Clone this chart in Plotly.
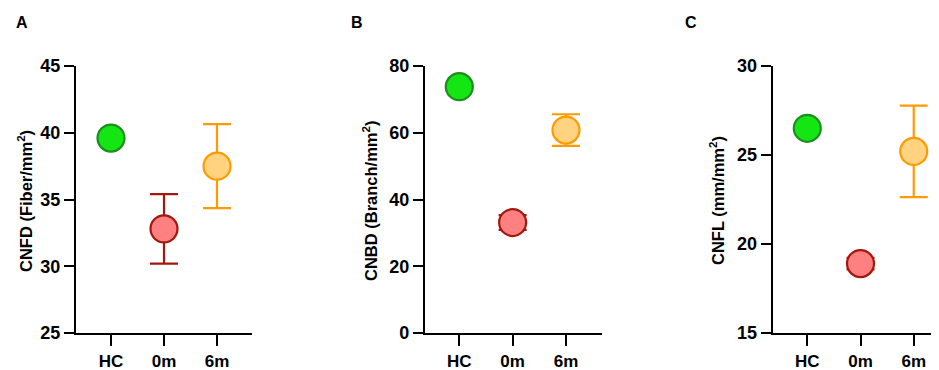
import plotly.graph_objects as go

# The page body adds an 8px offset; lay the figure out in reference pixels minus that offset.
OFF = 8
W, H = 939 - OFF, 370 - OFF

groups = ["HC", "0m", "6m"]

cnfd_mean = [39.6, 32.8, 37.5]
cnfd_err = [0.0, 2.6, 3.15]

cnbd_mean = [73.8, 33.1, 60.8]
cnbd_err = [0.0, 2.2, 4.75]

cnfl_mean = [26.5, 18.9, 25.2]
cnfl_err = [0.0, 0.32, 2.57]

fill_colors = ["#14E614", "#FF8080", "#FFD37F"]
line_colors = ["#1E8C1E", "#A3170F", "#FF9A00"]

panels = [
    dict(letter="A", title="CNFD (Fiber/mm<sup>2</sup>)", mean=cnfd_mean, err=cnfd_err,
         yrange=[25, 45], dtick=5, xpx=(76, 252), xrange=[-0.66, 2.66], title_x=25, letter_x=22),
    dict(letter="B", title="CNBD (Branch/mm<sup>2</sup>)", mean=cnbd_mean, err=cnbd_err,
         yrange=[0, 80], dtick=20, xpx=(425, 601.7), xrange=[-0.643, 2.67], title_x=370, letter_x=357),
    dict(letter="C", title="CNFL (mm/mm<sup>2</sup>)", mean=cnfl_mean, err=cnfl_err,
         yrange=[15, 30], dtick=5, xpx=(772.7, 939), xrange=[-0.65, 2.475], title_x=717, letter_x=691),
]


def px_x(p):
    return (p - OFF) / W


def px_y(p):
    return 1 - (p - OFF) / H


y_top, y_bot = 66, 333
ydom = [px_y(y_bot), px_y(y_top)]

font_family = "Liberation Sans, Arial, sans-serif"

fig = go.Figure()
annotations = []
layout = {}

for i, p in enumerate(panels):
    sfx = "" if i == 0 else str(i + 1)
    xa, ya = "x" + sfx, "y" + sfx
    for g in range(3):
        fig.add_trace(go.Scatter(
            x=[g], y=[p["mean"][g]],
            mode="markers",
            marker=dict(size=27, color=fill_colors[g],
                        line=dict(color=line_colors[g], width=2.2)),
            error_y=dict(type="data", array=[p["err"][g]], visible=p["err"][g] > 0,
                         color=line_colors[g], thickness=2.2, width=14),
            xaxis=xa, yaxis=ya, showlegend=False, cliponaxis=False,
        ))
    layout["xaxis" + sfx] = dict(
        domain=[px_x(p["xpx"][0]), min(1.0, px_x(p["xpx"][1]))], range=p["xrange"], anchor=ya,
        tickvals=[0, 1, 2], ticktext=groups, showgrid=False, zeroline=False,
        showline=True, linecolor="black", linewidth=2.3, automargin=False,
        ticks="outside", ticklen=11, tickwidth=2.3, tickcolor="black",
        tickfont=dict(family=font_family, size=17, color="black", weight="bold"),
        fixedrange=True,
    )
    layout["yaxis" + sfx] = dict(
        domain=ydom, range=p["yrange"], anchor=xa, dtick=p["dtick"],
        tick0=p["yrange"][0], showgrid=False, zeroline=False,
        showline=True, linecolor="black", linewidth=2.3, automargin=False,
        ticks="outside", ticklen=10, tickwidth=2.3, tickcolor="black",
        tickfont=dict(family=font_family, size=18, color="black", weight="bold"),
        fixedrange=True,
    )
    annotations.append(dict(
        text=p["title"], textangle=-90, xref="paper", yref="paper",
        x=px_x(p["title_x"]), y=px_y(201), xanchor="center", yanchor="middle",
        showarrow=False,
        font=dict(family=font_family, size=16.5, color="black", weight="bold"),
    ))
    annotations.append(dict(
        text=p["letter"], xref="paper", yref="paper",
        x=px_x(p["letter_x"]), y=px_y(22), xanchor="center", yanchor="middle",
        showarrow=False,
        font=dict(family=font_family, size=16, color="black", weight="bold"),
    ))

fig.update_layout(
    template="none",
    width=W, height=H,
    margin=dict(l=0, r=0, t=0, b=0, autoexpand=False),
    paper_bgcolor="white", plot_bgcolor="white",
    annotations=annotations,
    **layout,
)

fig.write_html("out.html")
